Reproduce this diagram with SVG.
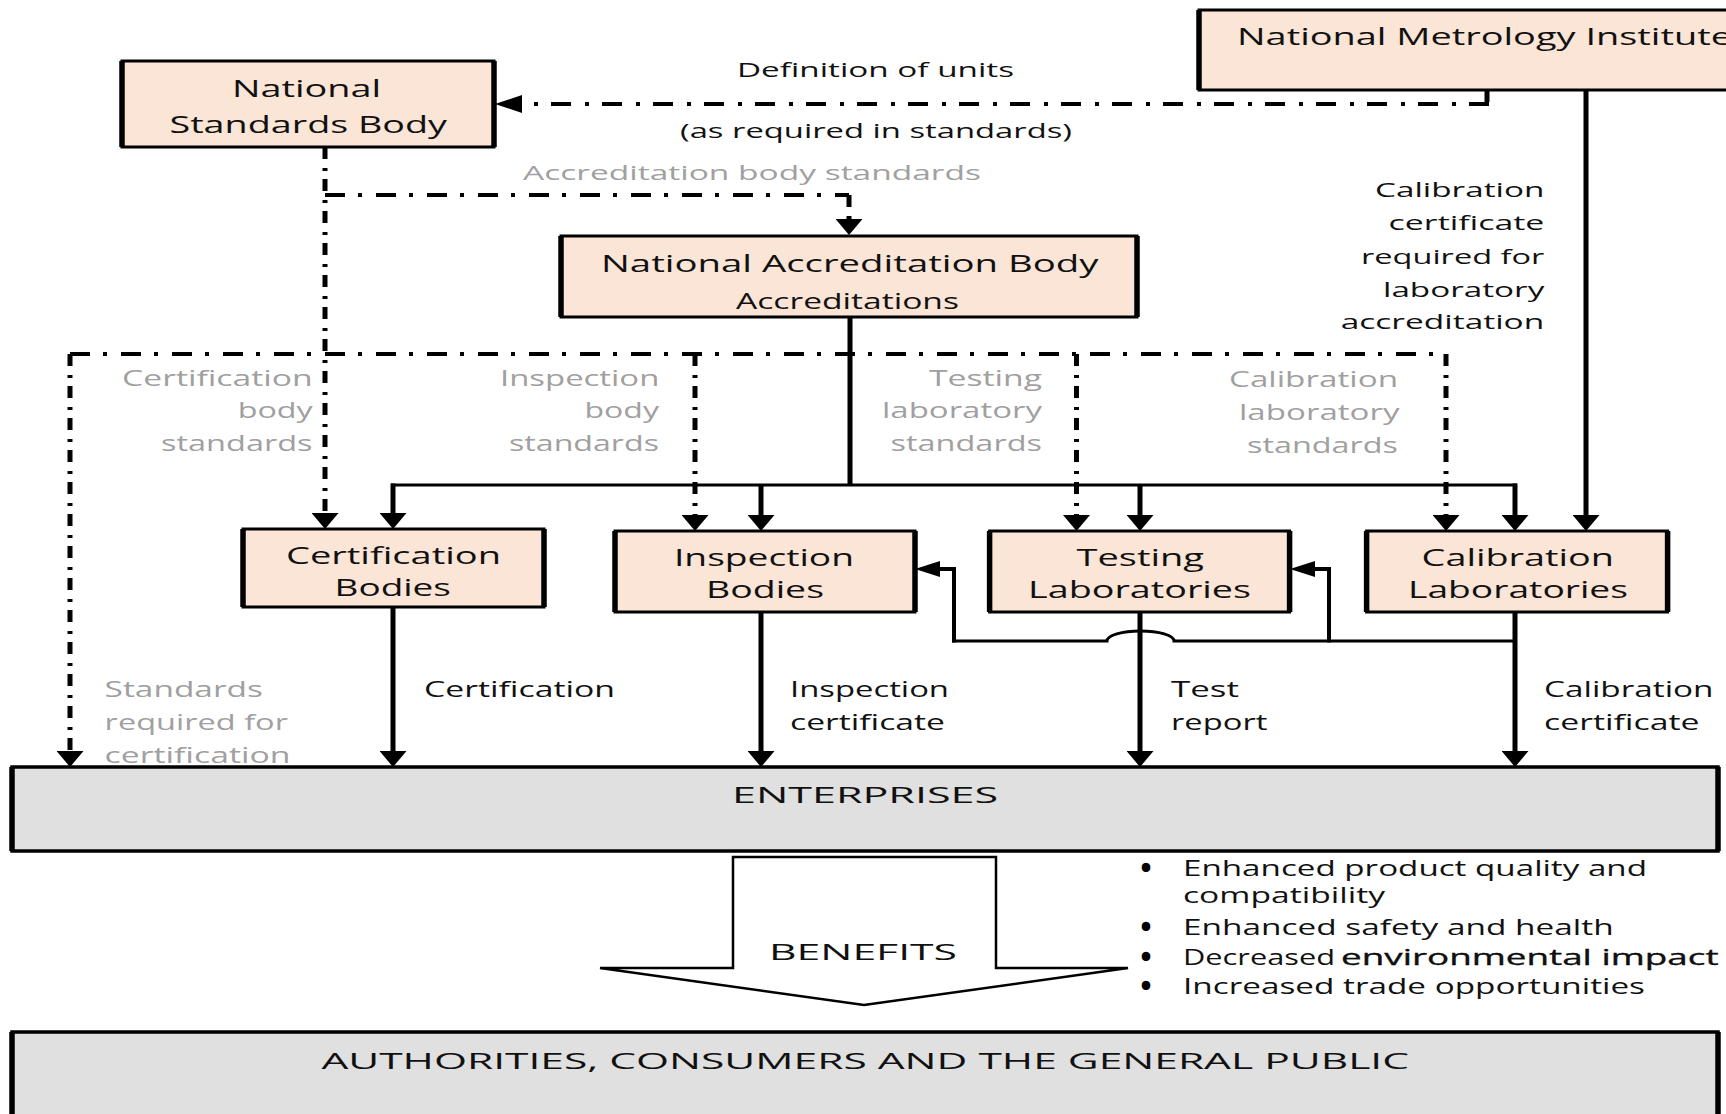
<svg xmlns="http://www.w3.org/2000/svg" width="1726" height="1114" viewBox="0 0 1726 1114">
<defs>
<style>
.box{fill:#FBE5D6;stroke:#000;stroke-width:3}
.gbox{fill:#E0E0E0;stroke:#000;stroke-width:3.5}
.ve{fill:none;stroke:#000;stroke-width:5.5}
text{font-family:"Open Sans","Liberation Sans",sans-serif;fill:#111;font-size:21px}
.n{font-size:24px}
.s{font-size:20.5px}
.g{fill:#A0A0A0}
.b{font-size:22.5px;font-weight:bold;fill:#000;stroke:#000;stroke-width:2.2}
.sh{stroke:#000;stroke-width:3;fill:none}
.sv{stroke:#000;stroke-width:5;fill:none}
.sf{stroke:#000;stroke-width:4;fill:none}
.dh{stroke:#000;stroke-width:4;stroke-dasharray:20 13 4 14;fill:none}
.dv{stroke:#000;stroke-width:5;stroke-dasharray:12 9 3 8;fill:none}
</style>
<marker id="ad" markerUnits="userSpaceOnUse" viewBox="0 0 16 27" markerWidth="16" markerHeight="27" refX="0" refY="13.5" orient="auto"><path d="M0,0 L16,13.5 L0,27 z" fill="#000"/></marker>
<marker id="al" markerUnits="userSpaceOnUse" viewBox="0 0 27 18" markerWidth="27" markerHeight="18" refX="0" refY="9" orient="auto"><path d="M0,0 L27,9 L0,18 z" fill="#000"/></marker>
<marker id="af" markerUnits="userSpaceOnUse" viewBox="0 0 25 16" markerWidth="25" markerHeight="16" refX="0" refY="8" orient="auto"><path d="M0,0 L25,8 L0,16 z" fill="#000"/></marker>
</defs>
<rect width="1726" height="1114" fill="#fff"/>

<g id="connectors">
<path class="dv" d="M1487,90 V104"/>
<path class="dh" d="M1489,104 H522" marker-end="url(#al)"/>
<path class="dv" d="M325,147 V513" marker-end="url(#ad)"/>
<path class="dh" d="M325,195 H849"/>
<path class="dv" d="M849,195 V219" marker-end="url(#ad)"/>
<path class="dh" d="M70,354 H1446"/>
<path class="dv" d="M70,354 V751" marker-end="url(#ad)"/>
<path class="dv" d="M695,354 V515" marker-end="url(#ad)"/>
<path class="dv" d="M1076.5,354 V515" marker-end="url(#ad)"/>
<path class="dv" d="M1446,354 V515" marker-end="url(#ad)"/>
<path class="sv" d="M1586,90 V515" marker-end="url(#ad)"/>
<path class="sv" d="M850,317 V486"/>
<path class="sh" d="M391,485 H1517"/>
<path class="sv" d="M393,483.5 V513" marker-end="url(#ad)"/>
<path class="sv" d="M761,485 V515" marker-end="url(#ad)"/>
<path class="sv" d="M1140,485 V515" marker-end="url(#ad)"/>
<path class="sv" d="M1515,483.5 V515" marker-end="url(#ad)"/>
<path class="sv" d="M393,607 V751" marker-end="url(#ad)"/>
<path class="sv" d="M761,612 V751" marker-end="url(#ad)"/>
<path class="sv" d="M1140,612 V751" marker-end="url(#ad)"/>
<path class="sv" d="M1515,612 V751" marker-end="url(#ad)"/>
<path class="sh" d="M1515,641 H1174 A33.5,10 0 0 0 1107,641 H952"/>
<path class="sf" d="M954,642.5 V569 H940" marker-end="url(#af)"/>
<path class="sf" d="M1329,642.5 V569 H1315" marker-end="url(#af)"/>
</g>

<g id="n-nmi">
<rect class="box" x="1199" y="10" width="580" height="80"/>
<path class="ve" d="M1199,10 V90"/>
<text class="n" x="1237" y="45" textLength="495" lengthAdjust="spacingAndGlyphs">National Metrology Institute</text>
</g>

<g id="n-nsb">
<rect class="box" x="122" y="61" width="372" height="86"/>
<path class="ve" d="M122,61 V147 M494,61 V147"/>
<text class="n" x="232" y="97" textLength="149" lengthAdjust="spacingAndGlyphs">National</text>
<text class="n" x="169.5" y="133" textLength="277.5" lengthAdjust="spacingAndGlyphs">Standards Body</text>
</g>

<g id="n-nab">
<rect class="box" x="561" y="236" width="576" height="81"/>
<path class="ve" d="M561,236 V317 M1137,236 V317"/>
<text class="n" x="601" y="271.7" textLength="497.5" lengthAdjust="spacingAndGlyphs">National Accreditation Body</text>
<text x="736" y="309" font-size="20.5" textLength="223" lengthAdjust="spacingAndGlyphs">Accreditations</text>
</g>

<g id="n-cert">
<rect class="box" x="243" y="529" width="301" height="78"/>
<path class="ve" d="M243,529 V607 M544,529 V607"/>
<text class="n" x="286" y="564" textLength="215" lengthAdjust="spacingAndGlyphs">Certification</text>
<text class="n" x="334.6" y="596" textLength="116.4" lengthAdjust="spacingAndGlyphs">Bodies</text>
</g>

<g id="n-insp">
<rect class="box" x="615" y="531" width="300" height="81"/>
<path class="ve" d="M615,531 V612 M915,531 V612"/>
<text class="n" x="674" y="565.7" textLength="180" lengthAdjust="spacingAndGlyphs">Inspection</text>
<text class="n" x="706" y="598" textLength="118" lengthAdjust="spacingAndGlyphs">Bodies</text>
</g>

<g id="n-test">
<rect class="box" x="989.6" y="531" width="300" height="81"/>
<path class="ve" d="M989.6,531 V612 M1289.6,531 V612"/>
<text class="n" x="1076.5" y="565.7" textLength="127.5" lengthAdjust="spacingAndGlyphs">Testing</text>
<text class="n" x="1028" y="598" textLength="223" lengthAdjust="spacingAndGlyphs">Laboratories</text>
</g>

<g id="n-cal">
<rect class="box" x="1366.6" y="531" width="301" height="81"/>
<path class="ve" d="M1366.6,531 V612 M1667.6,531 V612"/>
<text class="n" x="1421.6" y="565.7" textLength="192.4" lengthAdjust="spacingAndGlyphs">Calibration</text>
<text class="n" x="1408" y="598" textLength="220" lengthAdjust="spacingAndGlyphs">Laboratories</text>
</g>

<g id="n-ent">
<rect class="gbox" x="12" y="767" width="1706" height="84"/>
<path class="ve" d="M12,767 V851 M1718,767 V851"/>
<text x="732" y="802.5" font-size="24.5" textLength="266" lengthAdjust="spacingAndGlyphs">ENTERPRISES</text>
</g>

<g id="n-benefits">
<polygon points="733,857 996,857 996,968 1128,968 864,1005 600,968 733,968" fill="#fff" stroke="#000" stroke-width="2.5"/>
<text x="769" y="960" font-size="27" textLength="188" lengthAdjust="spacingAndGlyphs">BENEFITS</text>
</g>

<g id="benefit-list">
<text class="b" x="1146" y="876" text-anchor="middle">•</text>
<text class="b" x="1146" y="935" text-anchor="middle">•</text>
<text class="b" x="1146" y="965" text-anchor="middle">•</text>
<text class="b" x="1146" y="994" text-anchor="middle">•</text>
<text x="1183" y="876" font-size="22.5" textLength="464" lengthAdjust="spacingAndGlyphs">Enhanced product quality and</text>
<text x="1183" y="903" font-size="22.5" textLength="202" lengthAdjust="spacingAndGlyphs">compatibility</text>
<text x="1183" y="935" font-size="22.5" textLength="430.6" lengthAdjust="spacingAndGlyphs">Enhanced safety and health</text>
<text x="1183" y="965" font-size="22.5" textLength="152" lengthAdjust="spacingAndGlyphs">Decreased</text>
<text x="1341" y="965" font-size="22.5" fill="#000" stroke="#000" stroke-width="0.3" textLength="377.6" lengthAdjust="spacingAndGlyphs">environmental impact</text>
<text x="1183" y="994" font-size="22.5" textLength="462" lengthAdjust="spacingAndGlyphs">Increased trade opportunities</text>
</g>

<g id="n-public">
<rect class="gbox" x="12" y="1032" width="1706" height="100"/>
<path class="ve" d="M12,1032 V1120 M1718,1032 V1120"/>
<text x="321.4" y="1069.3" font-size="24.5" textLength="1087.6" lengthAdjust="spacingAndGlyphs">AUTHORITIES, CONSUMERS AND THE GENERAL PUBLIC</text>
</g>

<g id="labels">
<text class="s" x="737" y="77" textLength="277" lengthAdjust="spacingAndGlyphs">Definition of units</text>
<text class="s" x="680" y="138" textLength="392" lengthAdjust="spacingAndGlyphs">(as required in standards)</text>
<text class="s g" x="523" y="180" textLength="458" lengthAdjust="spacingAndGlyphs">Accreditation body standards</text>

<text class="s" x="1375" y="197" textLength="169.3" lengthAdjust="spacingAndGlyphs">Calibration</text>
<text class="s" x="1388.6" y="230" textLength="155.7" lengthAdjust="spacingAndGlyphs">certificate</text>
<text class="s" x="1361" y="264" textLength="183.3" lengthAdjust="spacingAndGlyphs">required for</text>
<text class="s" x="1383" y="297" textLength="161.3" lengthAdjust="spacingAndGlyphs">laboratory</text>
<text class="s" x="1340.7" y="329" textLength="203.6" lengthAdjust="spacingAndGlyphs">accreditation</text>

<text class="g" x="122" y="385.7" textLength="190.6" lengthAdjust="spacingAndGlyphs">Certification</text>
<text class="g" x="237.7" y="418" textLength="75" lengthAdjust="spacingAndGlyphs">body</text>
<text class="g" x="161" y="450.7" textLength="151.6" lengthAdjust="spacingAndGlyphs">standards</text>
<text class="g" x="500" y="385.7" textLength="159.3" lengthAdjust="spacingAndGlyphs">Inspection</text>
<text class="g" x="584.5" y="418" textLength="74.5" lengthAdjust="spacingAndGlyphs">body</text>
<text class="g" x="509" y="450.7" textLength="150" lengthAdjust="spacingAndGlyphs">standards</text>
<text class="g" x="929" y="385.7" textLength="113" lengthAdjust="spacingAndGlyphs">Testing</text>
<text class="g" x="882" y="418" textLength="160" lengthAdjust="spacingAndGlyphs">laboratory</text>
<text class="g" x="890.5" y="450.7" textLength="151.5" lengthAdjust="spacingAndGlyphs">standards</text>
<text class="g" x="1229" y="386.7" textLength="169" lengthAdjust="spacingAndGlyphs">Calibration</text>
<text class="g" x="1239" y="420" textLength="160.6" lengthAdjust="spacingAndGlyphs">laboratory</text>
<text class="g" x="1247" y="452.7" textLength="151" lengthAdjust="spacingAndGlyphs">standards</text>

<text class="g" x="104.6" y="697" textLength="158.4" lengthAdjust="spacingAndGlyphs">Standards</text>
<text class="g" x="104.6" y="730" textLength="183.4" lengthAdjust="spacingAndGlyphs">required for</text>
<text class="g" x="104.6" y="762.7" textLength="186" lengthAdjust="spacingAndGlyphs">certification</text>
<text x="424" y="697" textLength="191" lengthAdjust="spacingAndGlyphs">Certification</text>
<text x="790" y="697" textLength="159" lengthAdjust="spacingAndGlyphs">Inspection</text>
<text x="790" y="730" textLength="155" lengthAdjust="spacingAndGlyphs">certificate</text>
<text x="1171" y="697" textLength="68" lengthAdjust="spacingAndGlyphs">Test</text>
<text x="1171" y="730" textLength="96.5" lengthAdjust="spacingAndGlyphs">report</text>
<text x="1544" y="697" textLength="169.5" lengthAdjust="spacingAndGlyphs">Calibration</text>
<text x="1544" y="730" textLength="155.5" lengthAdjust="spacingAndGlyphs">certificate</text>
</g>
</svg>
